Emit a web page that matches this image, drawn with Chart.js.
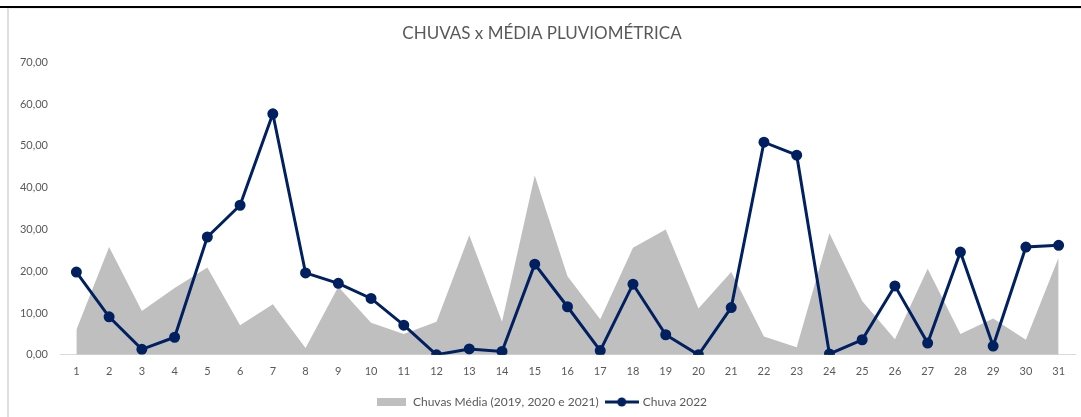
<!DOCTYPE html>
<html>
<head>
<meta charset="utf-8">
<script src="https://cdn.jsdelivr.net/npm/chart.js@4/dist/chart.umd.min.js"></script>
<style>
  html, body { margin: 0; padding: 0; background: #fff; overflow: hidden; }
  #topline { position: absolute; left: 0; top: 6px; width: 1081px; height: 2px; background: #000; }
  #frame { position: absolute; left: 7px; top: 8px; width: 1074px; height: 409px;
           border-left: 2px solid #dedede; border-top: 1px solid #eeeeee; box-sizing: border-box; }
  #wrap { position: absolute; left: 9px; top: 9px; width: 1082px; height: 408px; }
</style>
</head>
<body>
<div id="topline"></div>
<div id="frame"></div>
<div id="wrap"><canvas id="grafico"></canvas></div>
<script>
const dias = ['1','2','3','4','5','6','7','8','9','10','11','12','13','14','15','16',
              '17','18','19','20','21','22','23','24','25','26','27','28','29','30','31'];

// média das chuvas 2019, 2020 e 2021
const mediaChuvas = [6.0, 25.8, 10.5, 16.0, 20.9, 7.1, 12.1, 1.6, 16.3, 7.7, 5.0, 7.9, 28.6, 7.9, 42.9, 18.8,
                     8.5, 25.6, 30.0, 11.1, 19.8, 4.4, 1.8, 29.1, 12.9, 3.7, 20.6, 5.0, 8.7, 3.6, 23.3];

// chuva 2022
const chuva2022 = [19.8, 9.1, 1.3, 4.2, 28.2, 35.8, 57.7, 19.6, 17.1, 13.5, 7.1, 0.0, 1.4, 0.8, 21.7, 11.5,
                   1.0, 16.9, 4.8, 0.0, 11.3, 50.9, 47.8, 0.2, 3.6, 16.5, 2.8, 24.6, 2.1, 25.8, 26.2];

const corCinza = '#bfbfbf';
const corLinha = '#002060';
const corTexto = '#595959';
const fonte = 'Lato, "Open Sans", sans-serif';

// ícones da legenda
function iconeArea() {
    const c = document.createElement('canvas');
    c.width = 29; c.height = 8;
    const g = c.getContext('2d');
    g.fillStyle = corCinza;
    g.fillRect(0, 0, 29, 8);
    return c;
}
function iconeLinha() {
    const c = document.createElement('canvas');
    c.width = 34; c.height = 10;
    const g = c.getContext('2d');
    g.strokeStyle = corLinha;
    g.lineWidth = 3;
    g.beginPath(); g.moveTo(0, 5); g.lineTo(34, 5); g.stroke();
    g.fillStyle = corLinha;
    g.beginPath(); g.arc(17, 5, 4.5, 0, Math.PI * 2); g.fill();
    return c;
}

const ctx = document.getElementById('grafico').getContext('2d');
new Chart(ctx, {
    type: 'line',
    data: {
        labels: dias,
        datasets: [{
            label: 'Chuvas Média (2019, 2020 e 2021)',
            data: mediaChuvas,
            fill: 'origin',
            backgroundColor: corCinza,
            borderWidth: 0,
            pointRadius: 0,
            tension: 0,
            order: 2
        }, {
            label: 'Chuva 2022',
            data: chuva2022,
            fill: false,
            borderColor: corLinha,
            backgroundColor: corLinha,
            borderWidth: 3,
            pointRadius: 4,
            pointBackgroundColor: corLinha,
            pointBorderColor: corLinha,
            tension: 0,
            order: 1
        }]
    },
    options: {
        responsive: true,
        maintainAspectRatio: false,
        animation: false,
        layout: { padding: { left: 0, right: 16, top: 0, bottom: -1 } },
        plugins: {
            title: {
                display: true,
                text: 'CHUVAS x MÉDIA PLUVIOMÉTRICA',
                color: corTexto,
                font: { family: fonte, size: 17, weight: 'normal' },
                padding: { top: 14, bottom: 19 }
            },
            legend: {
                position: 'bottom',
                labels: {
                    color: corTexto,
                    font: { family: fonte, size: 12 },
                    usePointStyle: true,
                    pointStyleWidth: 30,
                    padding: 8,
                    generateLabels: () => [
                        { text: 'Chuvas Média (2019, 2020 e 2021)', pointStyle: iconeArea(), datasetIndex: 0, fontColor: corTexto, lineWidth: 0 },
                        { text: 'Chuva 2022', pointStyle: iconeLinha(), datasetIndex: 1, fontColor: corTexto, lineWidth: 0 }
                    ]
                }
            },
            tooltip: { enabled: false }
        },
        scales: {
            x: {
                offset: true,
                grid: { display: false, drawTicks: false },
                border: { display: true, color: '#d9d9d9', width: 1 },
                ticks: { color: corTexto, font: { family: fonte, size: 11 }, padding: 10, maxRotation: 0, autoSkip: false }
            },
            y: {
                min: 0,
                max: 70,
                afterFit: (s) => { s.width = 51; },
                grid: { display: false, drawTicks: false },
                border: { display: false },
                ticks: {
                    stepSize: 10,
                    color: corTexto,
                    font: { family: fonte, size: 11 },
                    padding: 12,
                    callback: (v) => v.toFixed(2).replace('.', ',')
                }
            }
        }
    }
});
</script>
</body>
</html>
